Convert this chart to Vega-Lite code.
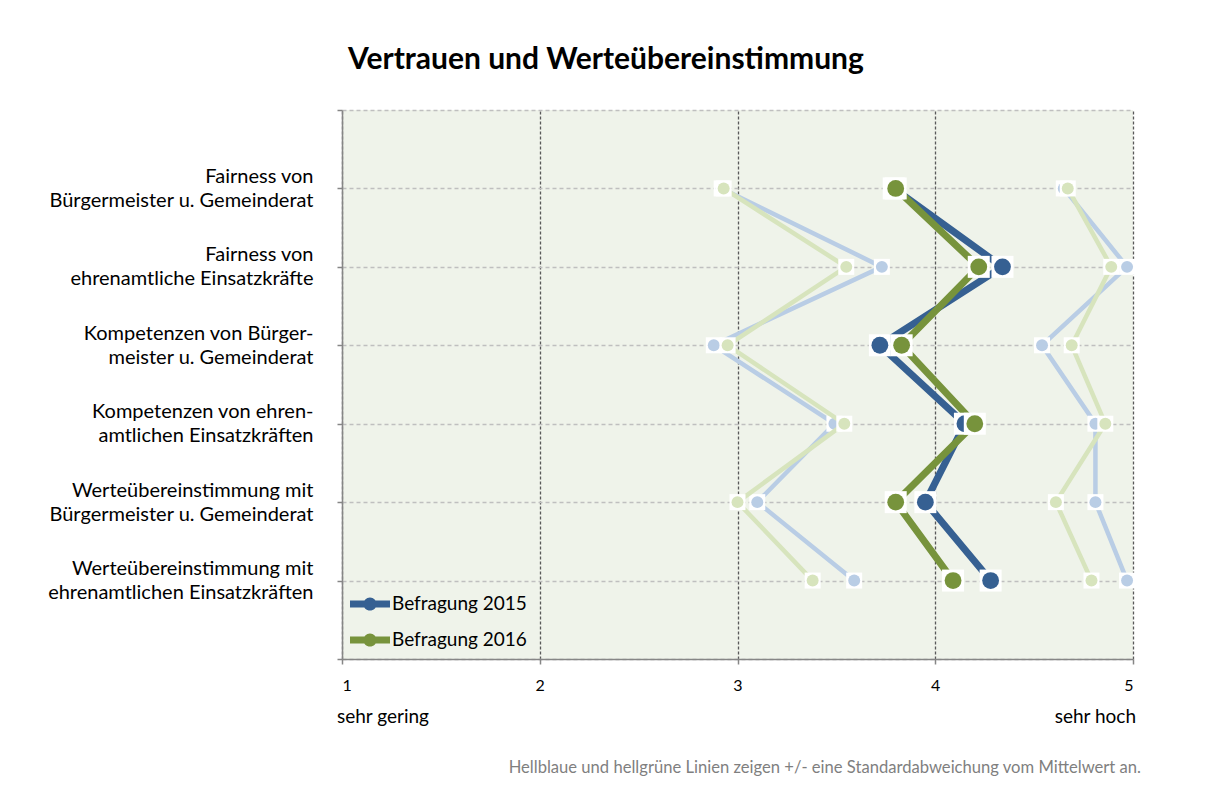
{
  "$schema": "https://vega.github.io/schema/vega-lite/v6.json",
  "width": 791,
  "height": 549,
  "autosize": {"type": "none"},
  "padding": {"left": 342, "top": 110, "right": 79, "bottom": 139},
  "background": "white",
  "title": {
    "text": "Vertrauen und Werteübereinstimmung",
    "anchor": "start",
    "frame": "group",
    "dx": 6,
    "offset": 34,
    "font": "Lato",
    "fontSize": 30,
    "fontWeight": "bold",
    "color": "#000000"
  },
  "config": {
    "view": {"fill": "#eff3ea", "stroke": null},
    "font": "Lato"
  },
  "data": {
    "values": [
      {"kat": 1, "jahr": "Befragung 2015", "art": "Mittelwert", "wert": 3.79},
      {"kat": 2, "jahr": "Befragung 2015", "art": "Mittelwert", "wert": 4.34},
      {"kat": 3, "jahr": "Befragung 2015", "art": "Mittelwert", "wert": 3.72},
      {"kat": 4, "jahr": "Befragung 2015", "art": "Mittelwert", "wert": 4.15},
      {"kat": 5, "jahr": "Befragung 2015", "art": "Mittelwert", "wert": 3.95},
      {"kat": 6, "jahr": "Befragung 2015", "art": "Mittelwert", "wert": 4.28},
      {"kat": 1, "jahr": "Befragung 2016", "art": "Mittelwert", "wert": 3.80},
      {"kat": 2, "jahr": "Befragung 2016", "art": "Mittelwert", "wert": 4.22},
      {"kat": 3, "jahr": "Befragung 2016", "art": "Mittelwert", "wert": 3.83},
      {"kat": 4, "jahr": "Befragung 2016", "art": "Mittelwert", "wert": 4.20},
      {"kat": 5, "jahr": "Befragung 2016", "art": "Mittelwert", "wert": 3.80},
      {"kat": 6, "jahr": "Befragung 2016", "art": "Mittelwert", "wert": 4.09},
      {"kat": 1, "jahr": "Befragung 2015", "art": "minus SD", "wert": 2.92},
      {"kat": 2, "jahr": "Befragung 2015", "art": "minus SD", "wert": 3.73},
      {"kat": 3, "jahr": "Befragung 2015", "art": "minus SD", "wert": 2.88},
      {"kat": 4, "jahr": "Befragung 2015", "art": "minus SD", "wert": 3.49},
      {"kat": 5, "jahr": "Befragung 2015", "art": "minus SD", "wert": 3.10},
      {"kat": 6, "jahr": "Befragung 2015", "art": "minus SD", "wert": 3.59},
      {"kat": 1, "jahr": "Befragung 2015", "art": "plus SD", "wert": 4.65},
      {"kat": 2, "jahr": "Befragung 2015", "art": "plus SD", "wert": 4.97},
      {"kat": 3, "jahr": "Befragung 2015", "art": "plus SD", "wert": 4.54},
      {"kat": 4, "jahr": "Befragung 2015", "art": "plus SD", "wert": 4.81},
      {"kat": 5, "jahr": "Befragung 2015", "art": "plus SD", "wert": 4.81},
      {"kat": 6, "jahr": "Befragung 2015", "art": "plus SD", "wert": 4.97},
      {"kat": 1, "jahr": "Befragung 2016", "art": "minus SD", "wert": 2.93},
      {"kat": 2, "jahr": "Befragung 2016", "art": "minus SD", "wert": 3.55},
      {"kat": 3, "jahr": "Befragung 2016", "art": "minus SD", "wert": 2.95},
      {"kat": 4, "jahr": "Befragung 2016", "art": "minus SD", "wert": 3.54},
      {"kat": 5, "jahr": "Befragung 2016", "art": "minus SD", "wert": 3.00},
      {"kat": 6, "jahr": "Befragung 2016", "art": "minus SD", "wert": 3.38},
      {"kat": 1, "jahr": "Befragung 2016", "art": "plus SD", "wert": 4.67},
      {"kat": 2, "jahr": "Befragung 2016", "art": "plus SD", "wert": 4.89},
      {"kat": 3, "jahr": "Befragung 2016", "art": "plus SD", "wert": 4.69},
      {"kat": 4, "jahr": "Befragung 2016", "art": "plus SD", "wert": 4.86},
      {"kat": 5, "jahr": "Befragung 2016", "art": "plus SD", "wert": 4.61},
      {"kat": 6, "jahr": "Befragung 2016", "art": "plus SD", "wert": 4.79}
    ]
  },
  "encoding": {
    "x": {
      "field": "wert",
      "type": "quantitative",
      "scale": {"domain": [1, 5], "nice": false, "zero": false},
      "axis": {
        "title": null,
        "values": [1, 2, 3, 4, 5],
        "format": "d",
        "grid": true,
        "gridColor": "#595959",
        "gridDash": [3, 2],
        "gridWidth": 1.3,
        "domainColor": "#868686",
        "domainWidth": 1.5,
        "tickColor": "#868686",
        "tickWidth": 1.5,
        "tickSize": 5,
        "labelFont": "Lato",
        "labelFontSize": 16,
        "labelColor": "#000000",
        "labelPadding": 13
      }
    },
    "y": {
      "field": "kat",
      "type": "quantitative",
      "scale": {"domain": [0, 7], "reverse": true, "nice": false, "zero": false},
      "axis": {
        "title": null,
        "values": [0, 1, 2, 3, 4, 5, 6, 7],
        "grid": true,
        "gridColor": "#bfbfbf",
        "gridDash": [4, 3],
        "gridWidth": 1.5,
        "domainColor": "#868686",
        "domainWidth": 1.5,
        "tickColor": "#868686",
        "tickWidth": 1.5,
        "tickSize": 5,
        "labelFont": "Lato",
        "labelFontSize": 20,
        "labelColor": "#000000",
        "labelLineHeight": 24,
        "labelPadding": 24,
        "labelOffset": -12,
        "labelLimit": 0,
        "labelBaseline": "middle",
        "labelExpr": "datum.value == 1 ? ['Fairness von', 'Bürgermeister u. Gemeinderat'] : datum.value == 2 ? ['Fairness von', 'ehrenamtliche Einsatzkräfte'] : datum.value == 3 ? ['Kompetenzen von Bürger-', 'meister u. Gemeinderat'] : datum.value == 4 ? ['Kompetenzen von ehren-', 'amtlichen Einsatzkräften'] : datum.value == 5 ? ['Werteübereinstimmung mit', 'Bürgermeister u. Gemeinderat'] : datum.value == 6 ? ['Werteübereinstimmung mit', 'ehrenamtlichen Einsatzkräften'] : ''"
      }
    }
  },
  "layer": [
    {
      "transform": [{"filter": "datum.art != 'Mittelwert' && datum.jahr == 'Befragung 2015'"}],
      "mark": {"type": "line", "color": "#b9cde5", "strokeWidth": 4.5},
      "encoding": {"detail": {"field": "art"}, "order": {"field": "kat"}}
    },
    {
      "transform": [{"filter": "datum.art != 'Mittelwert' && datum.jahr == 'Befragung 2015'"}],
      "mark": {"type": "point", "shape": "square", "filled": true, "color": "white", "opacity": 1, "size": 256}
    },
    {
      "transform": [{"filter": "datum.art != 'Mittelwert' && datum.jahr == 'Befragung 2015'"}],
      "mark": {"type": "circle", "color": "#b9cde5", "opacity": 1, "size": 143}
    },
    {
      "transform": [{"filter": "datum.art != 'Mittelwert' && datum.jahr == 'Befragung 2016'"}],
      "mark": {"type": "line", "color": "#d7e4bd", "strokeWidth": 4.5},
      "encoding": {"detail": {"field": "art"}, "order": {"field": "kat"}}
    },
    {
      "transform": [{"filter": "datum.art != 'Mittelwert' && datum.jahr == 'Befragung 2016'"}],
      "mark": {"type": "point", "shape": "square", "filled": true, "color": "white", "opacity": 1, "size": 256}
    },
    {
      "transform": [{"filter": "datum.art != 'Mittelwert' && datum.jahr == 'Befragung 2016'"}],
      "mark": {"type": "circle", "color": "#d7e4bd", "opacity": 1, "size": 143}
    },
    {
      "transform": [{"filter": "datum.art == 'Mittelwert'"}],
      "mark": {"type": "line", "strokeWidth": 7},
      "encoding": {
        "order": {"field": "kat"},
        "color": {
          "field": "jahr",
          "type": "nominal",
          "scale": {"domain": ["Befragung 2015", "Befragung 2016"], "range": ["#366092", "#77933c"]},
          "legend": {
            "title": null,
            "orient": "none",
            "legendX": 8,
            "legendY": 474,
            "padding": 0,
            "symbolType": "M-1,-0.175L1,-0.175L1,0.175L-1,0.175Z M0.33,0A0.33,0.33,0,1,1,-0.33,0A0.33,0.33,0,1,1,0.33,0Z",
            "symbolSize": 1600,
            "symbolStrokeWidth": 0,
            "labelFont": "Lato",
            "labelFontSize": 19,
            "labelColor": "#000000",
            "labelOffset": 2,
            "rowPadding": 6
          }
        }
      }
    },
    {
      "transform": [{"filter": "datum.art == 'Mittelwert' && datum.jahr == 'Befragung 2015'"}],
      "mark": {"type": "point", "shape": "square", "filled": true, "color": "white", "opacity": 1, "size": 484}
    },
    {
      "transform": [{"filter": "datum.art == 'Mittelwert' && datum.jahr == 'Befragung 2015'"}],
      "mark": {"type": "circle", "opacity": 1, "size": 283},
      "encoding": {"color": {"field": "jahr", "type": "nominal"}}
    },
    {
      "transform": [{"filter": "datum.art == 'Mittelwert' && datum.jahr == 'Befragung 2016'"}],
      "mark": {"type": "point", "shape": "square", "filled": true, "color": "white", "opacity": 1, "size": 484}
    },
    {
      "transform": [{"filter": "datum.art == 'Mittelwert' && datum.jahr == 'Befragung 2016'"}],
      "mark": {"type": "circle", "opacity": 1, "size": 283},
      "encoding": {"color": {"field": "jahr", "type": "nominal"}}
    },
    {
      "transform": [{"filter": "datum.kat == 1 && datum.art == 'Mittelwert' && datum.jahr == 'Befragung 2015'"}],
      "mark": {"type": "text", "text": "sehr gering", "align": "left", "baseline": "middle", "dx": -5, "font": "Lato", "fontSize": 19, "color": "#000000"},
      "encoding": {"x": {"datum": 1}, "y": {"datum": 7.735}}
    },
    {
      "transform": [{"filter": "datum.kat == 1 && datum.art == 'Mittelwert' && datum.jahr == 'Befragung 2015'"}],
      "mark": {"type": "text", "text": "sehr hoch", "align": "right", "baseline": "middle", "dx": 3, "font": "Lato", "fontSize": 19, "color": "#000000"},
      "encoding": {"x": {"datum": 5}, "y": {"datum": 7.735}}
    },
    {
      "transform": [{"filter": "datum.kat == 1 && datum.art == 'Mittelwert' && datum.jahr == 'Befragung 2015'"}],
      "mark": {"type": "text", "text": "Hellblaue und hellgrüne Linien zeigen +/- eine Standardabweichung vom Mittelwert an.", "align": "right", "baseline": "middle", "dx": 8, "font": "Lato", "fontSize": 16.6, "color": "#7f7f7f"},
      "encoding": {"x": {"datum": 5}, "y": {"datum": 8.39}}
    }
  ]
}
